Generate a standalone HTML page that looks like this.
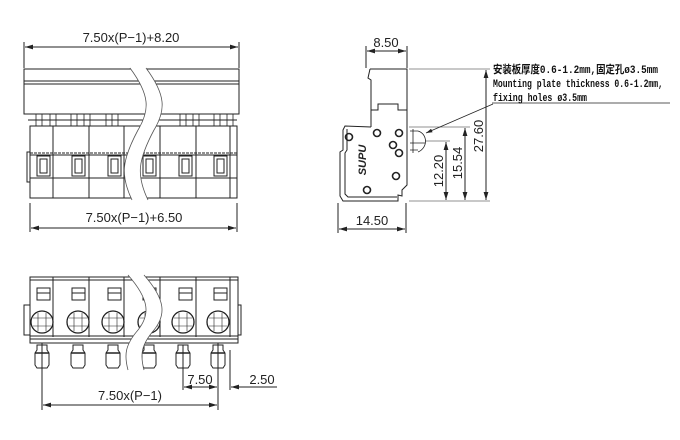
<!DOCTYPE html>
<html><head><meta charset="utf-8"><style>
html,body{margin:0;padding:0;background:#fff;width:680px;height:440px;overflow:hidden}
svg text{font-family:"Liberation Sans",sans-serif;fill:#222}
</style></head><body>
<svg width="680" height="440" viewBox="0 0 680 440" xmlns="http://www.w3.org/2000/svg">
<defs>
<marker id="a" viewBox="0 0 10 6" refX="10" refY="3" markerWidth="8" markerHeight="5" orient="auto-start-reverse"><path d="M0,0L10,3L0,6z" fill="#222"/></marker>
</defs>
<g stroke="#222" stroke-width="1" fill="none">
<!-- TOP VIEW -->
<line x1="24" y1="42" x2="24" y2="68"/><line x1="239" y1="42" x2="239" y2="68"/>
<line x1="25" y1="47" x2="238" y2="47" marker-start="url(#a)" marker-end="url(#a)"/>
<rect x="24" y="69" width="215" height="45"/>
<line x1="24" y1="81" x2="239" y2="81"/><line x1="24" y1="84" x2="239" y2="84"/>
<g stroke-width="0.8">
<path d="M36 114v12M42 114v12M50 114v12M56 114v12M71 114v12M77 114v12M84 114v12M90 114v12M106 114v12M112 114v12M118 114v12M180 114v12M186 114v12M193 114v12M199 114v12M214 114v12M220 114v12M227 114v12M233 114v12"/>
</g>
<line x1="28" y1="120" x2="237" y2="120"/>
<rect x="30" y="126" width="207" height="72"/>
<line x1="30" y1="153" x2="237" y2="153" stroke-dasharray="3,1"/>
<line x1="30" y1="155" x2="237" y2="155"/>
<line x1="30" y1="178" x2="237" y2="178"/>
<path d="M53 126v72M89 126v72M124 126v72M160 126v72M196 126v72M230 126v72"/>
<rect x="27" y="152" width="3" height="30"/>
<g>
<rect x="37" y="156" width="13" height="20"/><rect x="40" y="159" width="7" height="14"/>
<rect x="72" y="156" width="13" height="20"/><rect x="75" y="159" width="7" height="14"/>
<rect x="108" y="156" width="13" height="20"/><rect x="111" y="159" width="7" height="14"/>
<rect x="143" y="156" width="13" height="20"/><rect x="146" y="159" width="7" height="14"/>
<rect x="179" y="156" width="13" height="20"/><rect x="182" y="159" width="7" height="14"/>
<rect x="214" y="156" width="13" height="20"/><rect x="217" y="159" width="7" height="14"/>
</g>
<line x1="30" y1="203" x2="30" y2="232"/><line x1="237" y1="203" x2="237" y2="232"/>
<line x1="31" y1="228" x2="236" y2="228" marker-start="url(#a)" marker-end="url(#a)"/>
</g>
<path d="M130 68 C150 95,150 110,138 130 C122 160,120 175,132 200 L148 200 C136 175,138 160,154 130 C166 110,166 95,146 68Z" fill="#fff" stroke="none"/>
<path d="M130 68 C150 95,150 110,138 130 C122 160,120 175,132 200 M146 68 C166 95,166 110,154 130 C138 160,136 175,148 200" stroke="#555" fill="none" stroke-width="0.8"/>
<text x="131" y="42" font-size="13" text-anchor="middle">7.50x(P−1)+8.20</text>
<text x="134" y="222" font-size="13" text-anchor="middle">7.50x(P−1)+6.50</text>

<!-- SIDE VIEW -->
<g stroke="#222" stroke-width="1" fill="none">
<line x1="366" y1="46" x2="366" y2="68"/><line x1="407" y1="46" x2="407" y2="68"/>
<line x1="367" y1="51" x2="406" y2="51" marker-start="url(#a)" marker-end="url(#a)"/>
<path d="M370 69H407V127M370 69L368 78L371 80V127"/>
<path d="M371 110H378V104H398V110H407"/>
<path d="M371 127L345 126L343 130V150L340 152V196L343 201H398V195L402 196L402 190L407 185V127"/>
<path d="M347 129V150L345 153V194L348 197H397"/>
<g stroke-width="1.6">
<circle cx="349" cy="137" r="3.5"/><circle cx="377" cy="133" r="3.5"/><circle cx="399" cy="133" r="3.5"/>
<circle cx="393" cy="145" r="3.5"/><circle cx="399" cy="153" r="3.5"/><circle cx="396" cy="176" r="3.5"/><circle cx="367" cy="190" r="3.5"/>
</g>
<path d="M410 131H418M410 143H425M410 150H418M413 129V153M418 131C428 134,428 148,418 152" stroke-width="0.8"/>
<line x1="338" y1="203" x2="338" y2="233"/><line x1="406" y1="203" x2="406" y2="233"/>
<line x1="339" y1="229" x2="405" y2="229" marker-start="url(#a)" marker-end="url(#a)"/>
<path d="M409 69H490M409 127H470M425 141H450M409 201H490" stroke-width="0.6"/>
<line x1="486" y1="70" x2="486" y2="200" marker-start="url(#a)" marker-end="url(#a)"/>
<line x1="465" y1="128" x2="465" y2="200" marker-start="url(#a)" marker-end="url(#a)"/>
<line x1="446" y1="142" x2="446" y2="200" marker-start="url(#a)" marker-end="url(#a)"/>
<line x1="493" y1="104" x2="426" y2="133" marker-end="url(#a)" stroke-width="0.8"/>
<line x1="492" y1="103" x2="670" y2="103" stroke-width="0.8"/>
</g>
<text x="386" y="47" font-size="13" text-anchor="middle">8.50</text>
<text x="372" y="225" font-size="13" text-anchor="middle">14.50</text>
<text transform="translate(366,160) rotate(-90)" font-size="11" font-weight="bold" font-style="italic" text-anchor="middle" fill="#444">SUPU</text>
<text transform="translate(443,171) rotate(-90)" font-size="13" text-anchor="middle">12.20</text>
<text transform="translate(462,163) rotate(-90)" font-size="13" text-anchor="middle">15.54</text>
<text transform="translate(483,136) rotate(-90)" font-size="13" text-anchor="middle">27.60</text>
<g font-weight="bold" font-size="11">
<text x="493" y="73" textLength="165" lengthAdjust="spacingAndGlyphs" style="font-family:'Liberation Mono','Noto Sans CJK SC',monospace;fill:#111">安装板厚度0.6-1.2mm,固定孔ø3.5mm</text>
<text x="493" y="87" textLength="170" lengthAdjust="spacingAndGlyphs" style="font-family:'Liberation Mono',monospace;fill:#111">Mounting plate thickness 0.6-1.2mm,</text>
<text x="493" y="101" textLength="94" lengthAdjust="spacingAndGlyphs" style="font-family:'Liberation Mono',monospace;fill:#111">fixing holes ø3.5mm</text>
</g>

<!-- BOTTOM VIEW -->
<g stroke="#222" stroke-width="1" fill="none">
<rect x="30" y="277" width="208" height="66"/>
<line x1="30" y1="280" x2="238" y2="280"/>
<line x1="30" y1="336" x2="238" y2="336"/><line x1="30" y1="339" x2="238" y2="339"/>
<path d="M53 277v60M89 277v60M124 277v60M160 277v60M196 277v60M230 277v60"/>
<rect x="24" y="305" width="6" height="30"/><rect x="238" y="305" width="3" height="30"/>
<g>
<rect x="37" y="288" width="13" height="12"/><rect x="72" y="288" width="13" height="12"/><rect x="108" y="288" width="13" height="12"/>
<rect x="143" y="288" width="13" height="12"/><rect x="179" y="288" width="13" height="12"/><rect x="214" y="288" width="13" height="12"/>
<path d="M37 293h13M72 293h13M108 293h13M143 293h13M179 293h13M214 293h13"/>
</g>
<g stroke-width="1.3">
<circle cx="42" cy="322" r="11"/><circle cx="78" cy="322" r="11"/><circle cx="113" cy="322" r="11"/>
<circle cx="149" cy="322" r="11"/><circle cx="183" cy="322" r="11"/><circle cx="218" cy="322" r="11"/>
</g>
<g stroke-width="0.6">
<path d="M33 318h18M33 326h18M38 313v18M46 313v18"/>
<path d="M69 318h18M69 326h18M74 313v18M82 313v18"/>
<path d="M104 318h18M104 326h18M109 313v18M117 313v18"/>
<path d="M140 318h18M140 326h18M145 313v18M153 313v18"/>
<path d="M174 318h18M174 326h18M179 313v18M187 313v18"/>
<path d="M209 318h18M209 326h18M214 313v18M222 313v18"/>
</g>
<g>
<path d="M37 345h10v5l2 3v12l-2 3h-10l-2-3v-12l2-3z"/>
<path d="M73 345h10v5l2 3v12l-2 3h-10l-2-3v-12l2-3z"/>
<path d="M108 345h10v5l2 3v12l-2 3h-10l-2-3v-12l2-3z"/>
<path d="M144 345h10v5l2 3v12l-2 3h-10l-2-3v-12l2-3z"/>
<path d="M178 345h10v5l2 3v12l-2 3h-10l-2-3v-12l2-3z"/>
<path d="M213 345h10v5l2 3v12l-2 3h-10l-2-3v-12l2-3z"/>
<path d="M35 353h14M71 353h14M106 353h14M142 353h14M176 353h14M211 353h14" stroke-width="1.5"/>
</g>
<line x1="42" y1="343" x2="42" y2="410"/><line x1="218" y1="343" x2="218" y2="410"/>
<line x1="183" y1="345" x2="183" y2="390"/><line x1="230" y1="350" x2="230" y2="390"/>
<line x1="43" y1="405" x2="217" y2="405" marker-start="url(#a)" marker-end="url(#a)"/>
<line x1="184" y1="387" x2="217" y2="387" marker-start="url(#a)" marker-end="url(#a)"/>
<line x1="277" y1="387" x2="231" y2="387" marker-end="url(#a)"/>
</g>
<path d="M128 275 C150 300,150 315,138 330 C125 345,124 355,128 370 L144 370 C140 355,141 345,154 330 C166 315,166 300,144 275Z" fill="#fff" stroke="none"/>
<path d="M128 275 C150 300,150 315,138 330 C125 345,124 355,128 370 M144 275 C166 300,166 315,154 330 C141 345,140 355,144 370" stroke="#555" fill="none" stroke-width="0.8"/>
<text x="200" y="384" font-size="13" text-anchor="middle">7.50</text>
<text x="262" y="384" font-size="13" text-anchor="middle">2.50</text>
<text x="130" y="400" font-size="13" text-anchor="middle">7.50x(P−1)</text>
</svg>
</body></html>
